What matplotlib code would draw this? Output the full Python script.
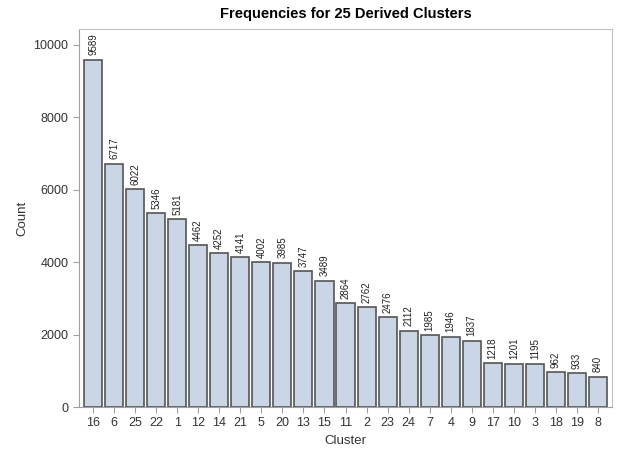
import matplotlib
matplotlib.use('Agg')
import matplotlib.pyplot as plt

clusters = ['16', '6', '25', '22', '1', '12', '14', '21', '5', '20', '13', '15', '11',
            '2', '23', '24', '7', '4', '9', '17', '10', '3', '18', '19', '8']
counts = [9589, 6717, 6022, 5346, 5181, 4462, 4252, 4141, 4002, 3985, 3747, 3489, 2864,
          2762, 2476, 2112, 1985, 1946, 1837, 1218, 1201, 1195, 962, 933, 840]

plt.rcParams['font.family'] = ['Liberation Sans', 'DejaVu Sans']

fig = plt.figure(figsize=(6.17, 4.53), dpi=100)
ax = fig.add_axes([0.128, 0.1015, 0.864, 0.8345])

x = list(range(len(clusters)))
ax.bar(x, counts, width=0.86, color='#CAD5E5', edgecolor='#555555', linewidth=1.2)
for xi, c in zip(x, counts):
    ax.text(xi, c + 120, str(c), rotation=90, ha='center', va='bottom', fontsize=7, color='#222222')

ax.set_xlim(-0.67, 24.67)
ax.set_ylim(0, 10440)
ax.set_xticks(x)
ax.set_xticklabels(clusters)
ax.set_yticks([0, 2000, 4000, 6000, 8000, 10000])

for s in ax.spines.values():
    s.set_color('#C0C0C0')
ax.spines['left'].set_color('#A0A0A0')
ax.spines['bottom'].set_color('#A0A0A0')
ax.tick_params(colors='#A0A0A0', labelcolor='#333333', labelsize=9, length=4)

ax.set_xlabel('Cluster', fontsize=9.5, color='#333333')
ax.set_ylabel('Count', fontsize=9.5, color='#333333')
ax.set_title('Frequencies for 25 Derived Clusters', fontsize=10.5, fontweight='bold', pad=8)

fig.savefig('out.png', dpi=100)
